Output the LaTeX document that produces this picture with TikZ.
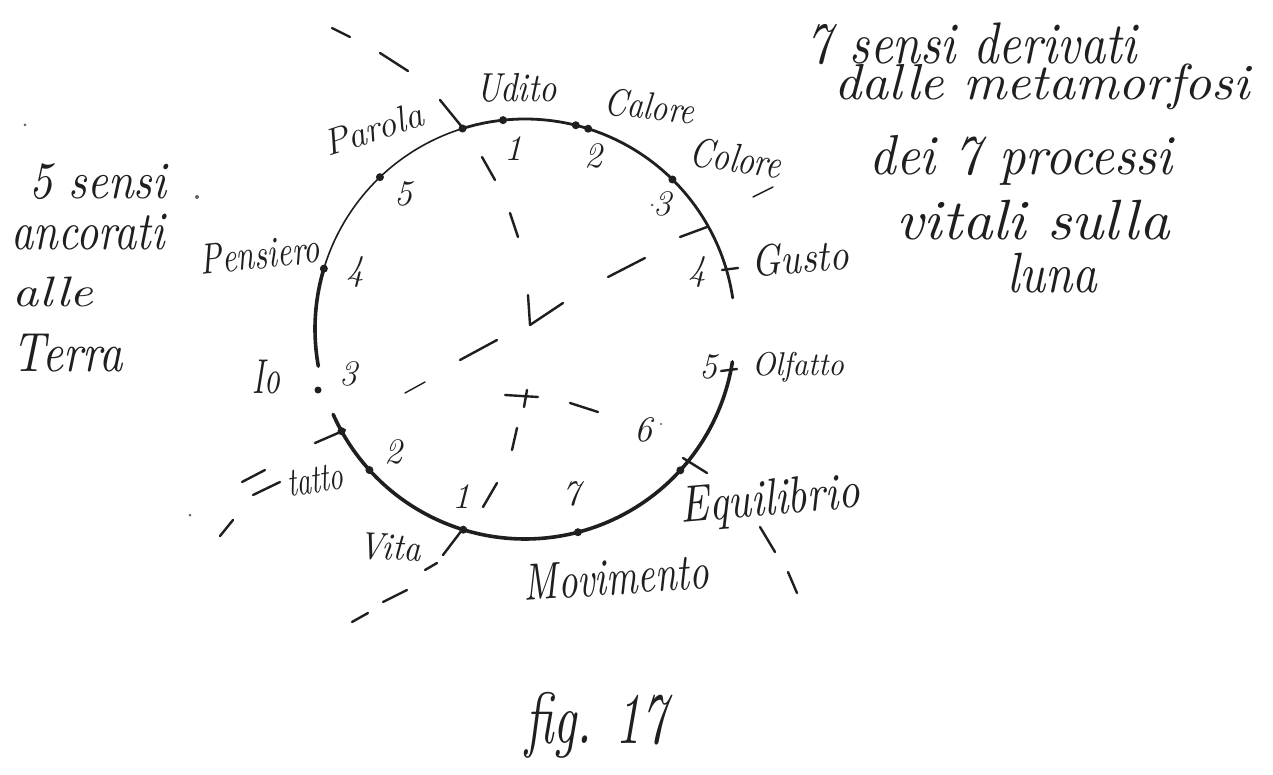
\documentclass[tikz,border=0pt]{standalone}
\usepackage{graphicx}
\usetikzlibrary{calc}
\newcommand{\hwt}[3]{\resizebox*{#1pt}{#2pt}{\itshape #3}}
\tikzset{
  ink/.style={draw=black!88, line cap=round, line join=round},
  arcthick/.style={ink, line width=3.6pt},
  arcmid/.style={ink, line width=2.8pt},
  arcthin/.style={ink, line width=1.6pt},
  dashstroke/.style={ink, line width=2.4pt},
  faintstroke/.style={ink, line width=1.4pt},
  sensedot/.style={fill=black!88},
  speck/.style={fill=black!60},
  lab/.style={inner sep=0pt, text=black!88},
  num/.style={inner sep=0pt, text=black!88, font=\fontsize{36}{36}\selectfont\itshape},
}
\begin{document}
\begin{tikzpicture}[x=1pt,y=-1pt]
\fill[white] (0,0) rectangle (1273,775);
\useasboundingbox (0,0) rectangle (1273,775);
\coordinate (c) at (525,329);

% circle arcs
\draw[arcthick] plot[domain=156:9, samples=90, smooth] ({525+210*cos(\x)},{329+210*sin(\x)});
\draw[arcmid] plot[domain=-8.5:-107.3, samples=70, smooth] ({525+210*cos(\x)},{329+210*sin(\x)});
\draw[arcthin] plot[domain=-107.3:-163.3, samples=40, smooth] ({525+210*cos(\x)},{329+210*sin(\x)});
\draw[arcthick] plot[domain=-163.3:-190.2, samples=25, smooth] ({525+210*cos(\x)},{329+210*sin(\x)});

% points of the senses
\foreach \a in {-96,-76,-72.5,-45.4,42.3,75.4,107.1,137.8,-163.3,-133.7,-107.3,150.9}
  \fill[sensedot] ($(c)+(\a:210)$) circle[radius=4pt];
\fill[sensedot] (318,390) circle[radius=3.5pt];

% cross ticks on the circle
\draw[dashstroke] (722,270) -- (738,268);
\draw[dashstroke] (721,371) -- (737,369);
\draw[dashstroke] (315,443) -- (345,430);

% line 1 (top left to centre)
\draw[dashstroke] (332,28) -- (350,37);
\draw[dashstroke] (380,53) -- (408,71);
\draw[dashstroke] (440,100) -- (462,127);
\draw[dashstroke] (482,157) -- (495,180);
\draw[dashstroke] (510,213) -- (518,237);
\draw[dashstroke] (528,295) -- (530,325);
% line 2 (upper right to lower left)
\draw[dashstroke] (530,325) -- (563,303);
\draw[dashstroke] (608,277) -- (645,258);
\draw[dashstroke] (680,237) -- (707,227);
\draw[faintstroke] (753,197) -- (773,187);
\draw[dashstroke] (460,360) -- (497,340);
\draw[faintstroke] (405,393) -- (425,382);
\draw[dashstroke] (242,482) -- (265,470);
\draw[dashstroke] (253,495) -- (280,482);
\draw[dashstroke] (220,536) -- (233,520);
% lower cross
\draw[dashstroke] (505,395) -- (538,397);
\draw[dashstroke] (527,390) -- (524,407);
% line 3 (to lower right)
\draw[dashstroke] (570,403) -- (598,412);
\draw[dashstroke] (683,458) -- (707,473);
\draw[dashstroke] (760,527) -- (775,552);
\draw[dashstroke] (788,572) -- (797,593);
% line 4 (to lower left)
\draw[dashstroke] (517,428) -- (512,450);
\draw[dashstroke] (497,483) -- (483,507);
\draw[dashstroke] (462,530) -- (443,555);
\draw[dashstroke] (437,563) -- (425,570);
\draw[dashstroke] (407,590) -- (383,602);
\draw[dashstroke] (368,613) -- (352,622);

% specks
\fill[speck] (25,125) circle[radius=1.5pt];
\fill[speck] (197,197) circle[radius=2pt];
\fill[speck] (190,515) circle[radius=1.5pt];
\fill[speck] (652,205) circle[radius=1.5pt];
\fill[speck] (661,424) circle[radius=1.2pt];

% numbers, right side
\node[num] (r1) at (513,149) {1};
\node[num] (r2) at (593,156) {2};
\node[num] (r3) at (662,204) {3};
\node[num] (r4) at (697,272) {4};
\node[num] (r5) at (708,367) {5};
\node[num] (r6) at (643,430) {6};
\node[num] (r7) at (571,494) {7};
% numbers, left side
\node[num] (l1) at (461,497) {1};
\node[num] (l2) at (393,452) {2};
\node[num] (l3) at (348,374) {3};
\node[num] (l4) at (355,272) {4};
\node[num] (l5) at (403,194) {5};

% sense labels
\node[lab] (udito) at (517,88) {\hwt{80}{29}{Udito}};
\node[lab,rotate=-6] (calore) at (650,106) {\hwt{90}{28}{Calore}};
\node[lab,rotate=-8] (colore) at (736,158) {\hwt{92}{30}{Colore}};
\node[lab,rotate=4] (gusto) at (800,258) {\hwt{97}{32}{Gusto}};
\node[lab] (olfatto) at (798,367) {\hwt{92}{30}{Olfatto}};
\node[lab,rotate=5] (equilibrio) at (770,502) {\hwt{180}{46}{Equilibrio}};
\node[lab,rotate=4] (movimento) at (616,577) {\hwt{185}{36}{Movimento}};
\node[lab,rotate=-3] (vita) at (390,547) {\hwt{62}{27}{Vita}};
\node[lab,rotate=8] (tatto) at (315,480) {\hwt{56}{26}{tatto}};
\node[lab] (io) at (266,377) {\hwt{28}{34}{Io}};
\node[lab,rotate=6] (pensiero) at (260,254) {\hwt{120}{30}{Pensiero}};
\node[lab,rotate=18,font=\fontsize{37}{37}\selectfont\itshape] (parola) at (373,129) {Parola};

% left text block
\node[lab] (t5a) at (98,182) {\hwt{137}{36}{5 sensi}};
\node[lab] (t5b) at (88,232) {\hwt{153}{36}{ancorati}};
\node[lab] (t5c) at (53,292) {\hwt{80}{30}{alle}};
\node[lab] (t5d) at (68,353) {\hwt{110}{38}{Terra}};

% right text block
\node[lab] (t7a) at (972,44) {\hwt{330}{42}{7 sensi derivati}};
\node[lab] (t7b) at (1042,87) {\hwt{415}{46}{dalle metamorfosi}};
\node[lab] (t7c) at (1021,160) {\hwt{303}{50}{dei 7 processi}};
\node[lab] (t7d) at (1033,220) {\hwt{273}{40}{vitali sulla}};
\node[lab] (t7e) at (1052,273) {\hwt{90}{40}{luna}};

% caption
\node[lab] (fig) at (596,725) {\hwt{142}{66}{fig. 17}};
\end{tikzpicture}
\end{document}
